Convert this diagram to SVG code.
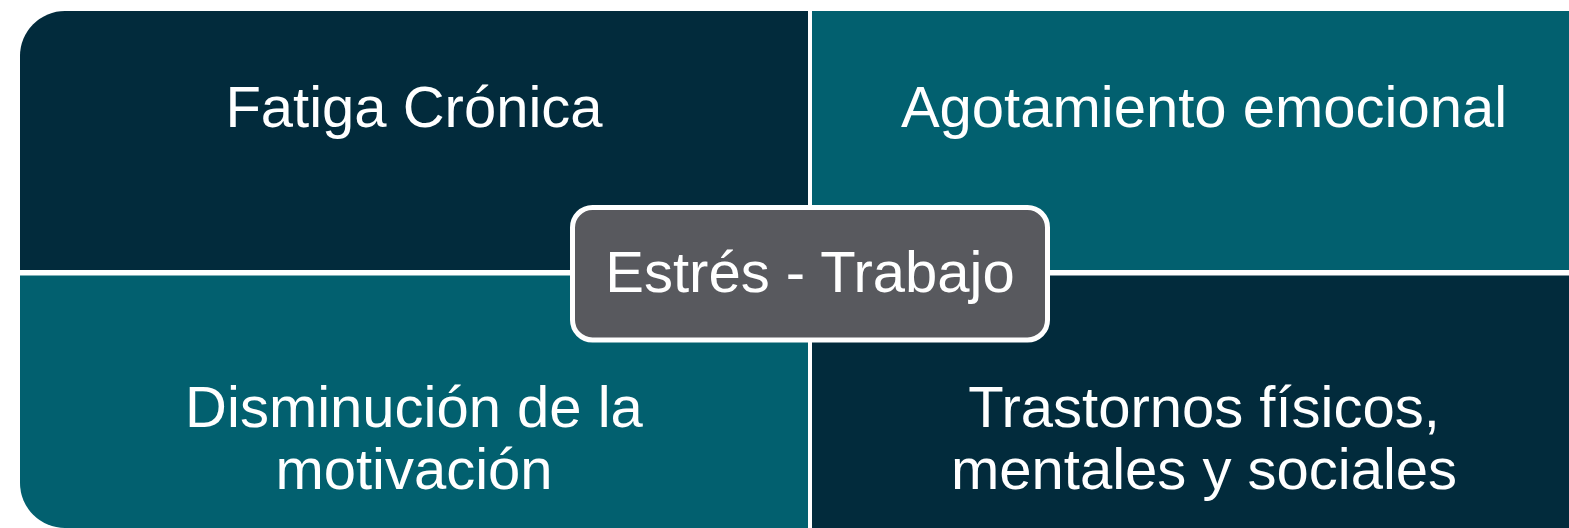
<svg xmlns="http://www.w3.org/2000/svg" width="1569" height="528" viewBox="0 0 1569 528">
  <style>
    .dark { fill: #022b3c; }
    .teal { fill: #02606f; }
    .lbl { font-family: "Liberation Sans", Arial, sans-serif; font-size: 58px; fill: #ffffff; text-anchor: middle; }
    .center { fill: #58595e; stroke: #ffffff; stroke-width: 5; }
  </style>
  <rect width="1569" height="528" fill="#ffffff"/>
  <g id="node-fatiga">
    <path class="dark" d="M20,56 A45,45 0 0 1 65,11 L808,11 L808,270 L20,270 Z"/>
    <text class="lbl" x="414" y="127">Fatiga Crónica</text>
  </g>
  <g id="node-agotamiento">
    <path class="teal" d="M812,11 L1620,11 L1620,270 L812,270 Z"/>
    <text class="lbl" x="1204" y="127">Agotamiento emocional</text>
  </g>
  <g id="node-disminucion">
    <path class="teal" d="M20,275.5 L808,275.5 L808,528 L65,528 A45,45 0 0 1 20,483 Z"/>
    <text class="lbl" x="414" y="427">Disminución de la</text>
    <text class="lbl" x="414" y="489">motivación</text>
  </g>
  <g id="node-trastornos">
    <path class="dark" d="M812,275.5 L1620,275.5 L1620,600 L812,600 Z"/>
    <text class="lbl" x="1204" y="427">Trastornos físicos,</text>
    <text class="lbl" x="1204" y="489">mentales y sociales</text>
  </g>
  <g id="connectors"></g>
  <g id="node-center">
    <rect class="center" x="572.5" y="207.5" width="475" height="132.5" rx="20" ry="20"/>
    <text class="lbl" x="810" y="292">Estrés - Trabajo</text>
  </g>
</svg>
